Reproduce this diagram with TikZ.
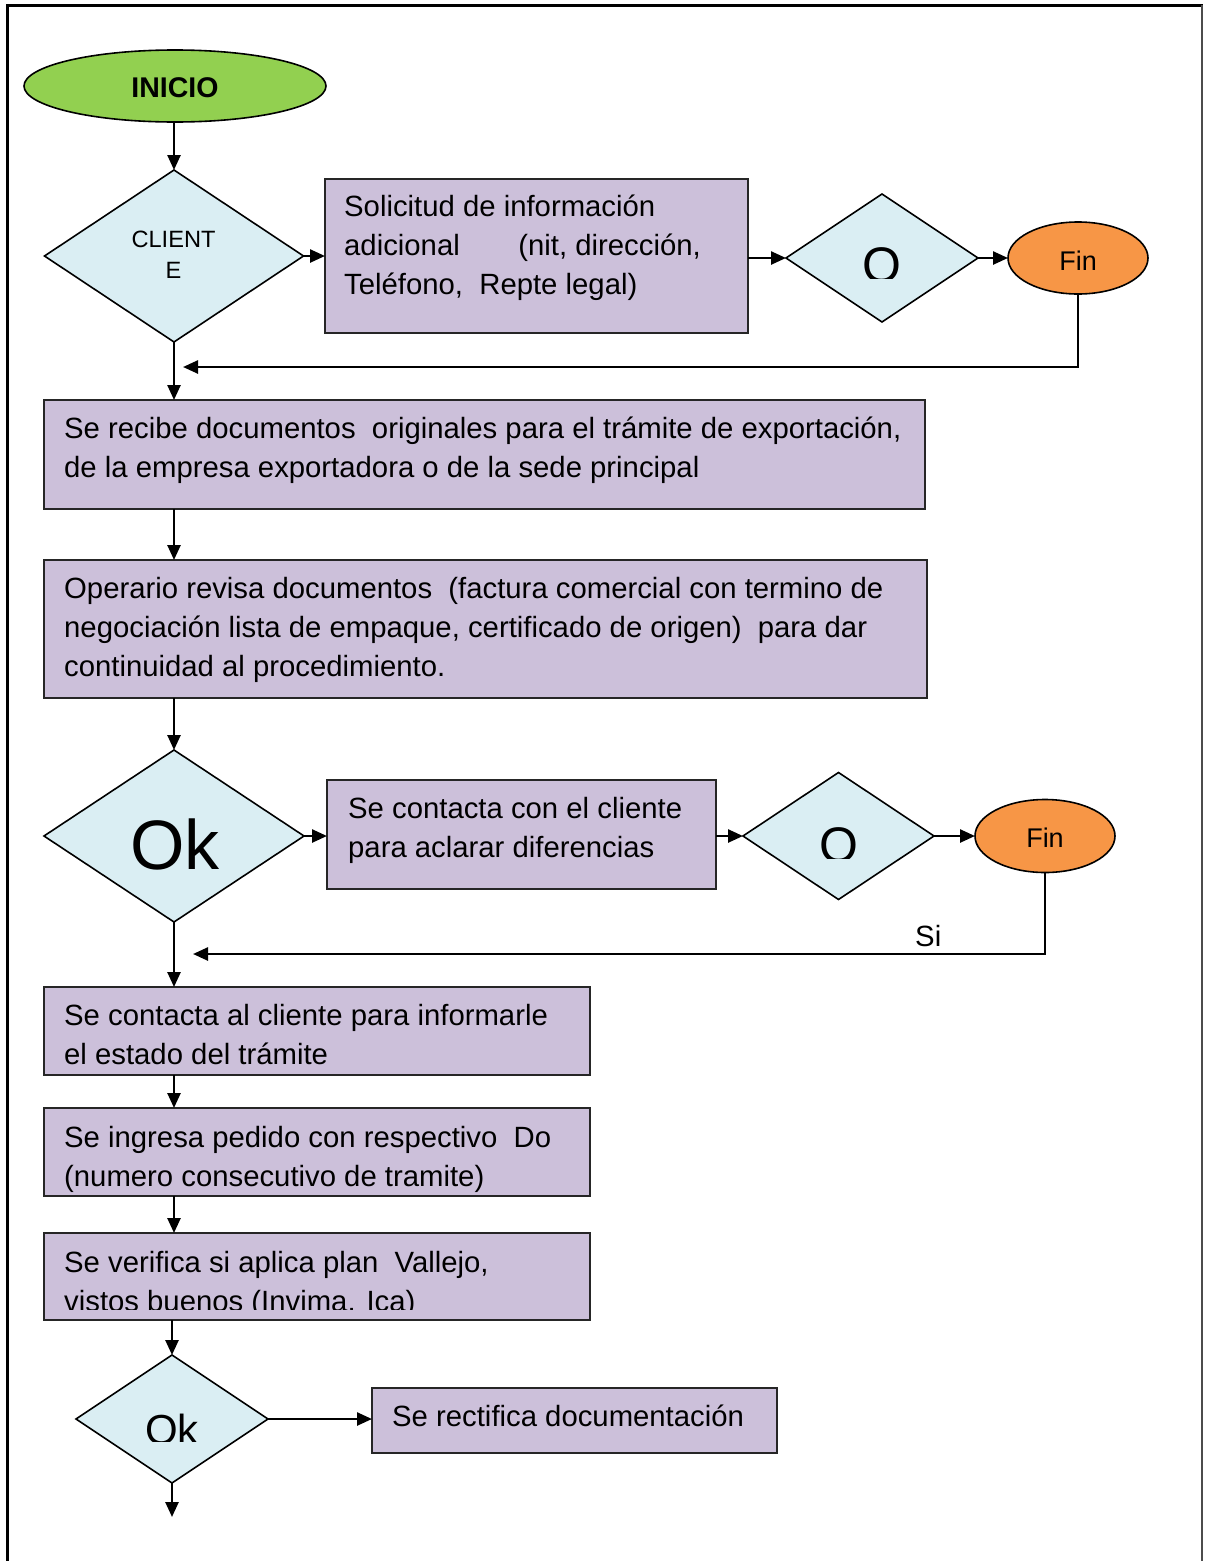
\documentclass[tikz,border=0pt]{standalone}
\usepackage{fontspec}
\setmainfont{Liberation Sans}
\usetikzlibrary{shapes.geometric,arrows.meta}

\definecolor{startgreen}{HTML}{92D050}
\definecolor{endorange}{HTML}{F79646}
\definecolor{decblue}{HTML}{DAEEF3}
\definecolor{boxlilac}{HTML}{CCC0DA}

% strut that fixes the top of the first text line in a box
\newcommand{\firstline}{\rule{0pt}{24pt}}

\tikzset{
  box/.style={rectangle, draw=black!85, line width=2pt, fill=boxlilac,
              inner sep=0pt, outer sep=0pt},
  dec/.style={diamond, draw=black, line width=1.6pt, fill=decblue,
              inner sep=0pt, outer sep=0pt},
  term/.style={ellipse, draw=black, line width=1.6pt, inner sep=0pt, outer sep=0pt},
  txt/.style={anchor=north west, inner sep=0pt, align=left,
              font=\fontsize{29.3}{39}\selectfont},
  flow/.style={line width=2.5pt, -{Triangle[length=15pt,width=13pt]}},
}

\begin{document}
\begin{tikzpicture}[x=1pt,y=-1pt]
\useasboundingbox (0,0) rectangle (1207,1561);
\fill[white] (0,0) rectangle (1207,1561);

% page frame
\draw[line width=3pt] (7,1561) -- (7,5) -- (1203,5);
\draw[line width=2pt, black!70] (1202,5) -- (1202,1561);

% ---- top row ----
\node[term, fill=startgreen, minimum width=302pt, minimum height=72pt] (inicio) at (175,86) {};
\node[anchor=base, inner sep=0pt, font=\fontsize{28.5}{34}\selectfont\bfseries]
      (iniciotxt) at (175,97) {INICIO};

\node[dec, minimum width=259pt, minimum height=172pt] (cl) at (174,256) {};
\node[anchor=north, inner sep=0pt, align=center, font=\fontsize{23.6}{31}\selectfont]
      (cltxt) at (173.5,229) {\rule{0pt}{18pt}CLIENT\\E};

\node[box, minimum width=423pt, minimum height=154pt] (b1) at (536.5,256) {};
\node[txt] (t1) at (344,192)
  {\firstline Solicitud de información\\adicional\hspace{2.0em}(nit, dirección,\\Teléfono,\ \ Repte legal)};

\node[dec, minimum width=192pt, minimum height=128pt] (oA) at (882,258) {};
\begin{scope}
  \clip (780,190) rectangle (985,278);
  \node[anchor=base, inner sep=0pt, font=\fontsize{50}{60}\selectfont] (oAtxt) at (882,282) {O};
\end{scope}

\node[term, fill=endorange, minimum width=140pt, minimum height=72pt] (finA) at (1078,258) {};
\node[anchor=base, inner sep=0pt, font=\fontsize{27}{32}\selectfont] (finAtxt) at (1078,270) {Fin};

\coordinate (retA) at (183,367);

% ---- documents ----
\node[box, minimum width=881pt, minimum height=109pt] (b2) at (484.5,454.5) {};
\node[txt] (t2) at (64,414)
  {\firstline Se recibe documentos\ \ originales para el trámite de exportación,\\de la empresa exportadora o de la sede principal};

\node[box, minimum width=883pt, minimum height=138pt] (b3) at (485.5,629) {};
\node[txt] (t3) at (64,574)
  {\firstline Operario revisa documentos\ \ (factura comercial con termino de\\negociación lista de empaque, certificado de origen)\ \ para dar\\continuidad al procedimiento.};

% ---- second decision row ----
\node[dec, minimum width=260pt, minimum height=172pt] (ok1) at (174,836) {};
\node[anchor=base, inner sep=0pt, font=\fontsize{70}{80}\selectfont] (ok1txt) at (175,869) {Ok};

\node[box, minimum width=389pt, minimum height=109pt] (b4) at (521.5,834.5) {};
\node[txt] (t4) at (348,794)
  {\firstline Se contacta con el cliente\\para aclarar diferencias};

\node[dec, minimum width=191pt, minimum height=127pt] (oB) at (838.5,836) {};
\begin{scope}
  \clip (740,770) rectangle (940,858);
  \node[anchor=base, inner sep=0pt, font=\fontsize{50}{60}\selectfont] (oBtxt) at (839,862) {O};
\end{scope}

\node[term, fill=endorange, minimum width=140pt, minimum height=73pt] (finB) at (1045,836) {};
\node[anchor=base, inner sep=0pt, font=\fontsize{27}{32}\selectfont] (finBtxt) at (1045,847) {Fin};

\coordinate (retB) at (193,954);
\node[anchor=base west, inner sep=0pt, font=\fontsize{29.3}{39}\selectfont] (si) at (915,946) {Si};

% ---- lower steps ----
\node[box, minimum width=546pt, minimum height=88pt] (b5) at (317,1031) {};
\node[txt] (t5) at (64,1001)
  {\firstline Se contacta al cliente para informarle\\el estado del trámite};

\node[box, minimum width=546pt, minimum height=88pt] (b6) at (317,1152) {};
\node[txt] (t6) at (64,1123)
  {\firstline Se ingresa pedido con respectivo\ \ Do\\(numero consecutivo de tramite)};

\node[box, minimum width=546pt, minimum height=87pt] (b7) at (317,1276.5) {};
\begin{scope}
  \clip (50,1236) rectangle (585,1309);
  \node[txt] (t7) at (64,1248)
    {\firstline Se verifica si aplica plan\ \ Vallejo,\\vistos buenos (Invima. Ica)};
\end{scope}

\node[dec, minimum width=192pt, minimum height=128pt] (ok2) at (172,1419) {};
\begin{scope}
  \clip (90,1380) rectangle (255,1441);
  \node[anchor=base, inner sep=0pt, font=\fontsize{42}{50}\selectfont] (ok2txt) at (172,1444) {Ok};
\end{scope}

\node[box, minimum width=405pt, minimum height=65pt] (b8) at (574.5,1420.5) {};
\node[txt] (t8) at (392,1402) {\firstline Se rectifica documentación};

\coordinate (endpt) at (172,1517);

% ---- connectors ----
\draw[flow] (inicio.south -| cl.north) -- (cl.north);
\draw[flow] (cl.east) -- (cl.east -| b1.west);
\draw[flow] (oA.west -| b1.east) -- (oA.west);
\draw[flow] (oA.east) -- (finA.west);
\draw[flow] (finA.south) |- (retA);
\draw[flow] (cl.south) -- (cl.south |- b2.north);
\draw[flow] (cl.south |- b2.south) -- (cl.south |- b3.north);
\draw[flow] (cl.south |- b3.south) -- (ok1.north);
\draw[flow] (ok1.east) -- (ok1.east -| b4.west);
\draw[flow] (oB.west -| b4.east) -- (oB.west);
\draw[flow] (oB.east) -- (oB.east -| finB.west);
\draw[flow] (finB.south) |- (retB);
\draw[flow] (ok1.south) -- (ok1.south |- b5.north);
\draw[flow] (ok1.south |- b5.south) -- (ok1.south |- b6.north);
\draw[flow] (ok1.south |- b6.south) -- (ok1.south |- b7.north);
\draw[flow] (ok2.north |- b7.south) -- (ok2.north);
\draw[flow] (ok2.east) -- (ok2.east -| b8.west);
\draw[flow] (ok2.south) -- (endpt);
\end{tikzpicture}
\end{document}
